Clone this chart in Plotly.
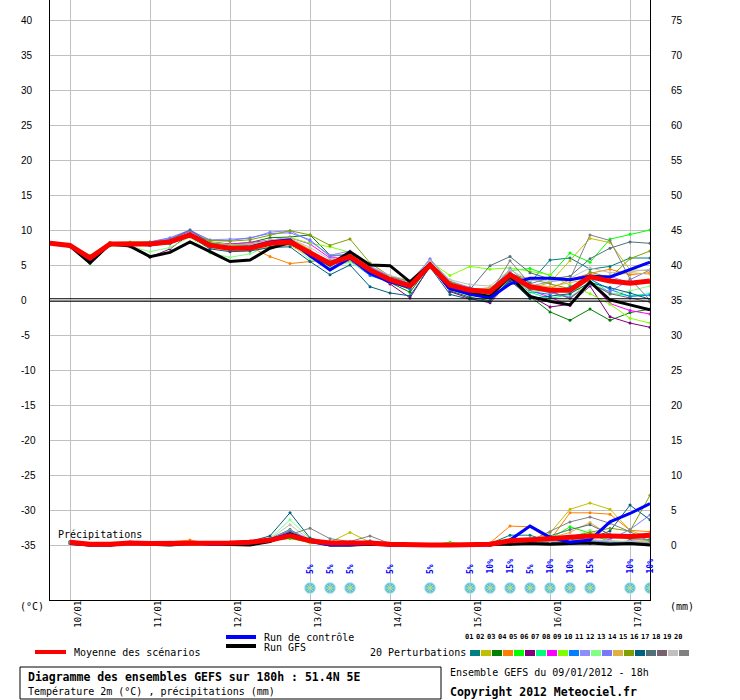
import plotly.graph_objects as go

# --- Time axis: GEFS run 09/01/2012 18h, steps of 6h up to +180h ---
HOURS = list(range(0, 181, 6))
PRECIP_HOURS = HOURS[1:]          # 6h accumulations start at the first step

DATE_TICKS = [6, 30, 54, 78, 102, 126, 150, 174]
DATE_LABELS = ["10/01", "11/01", "12/01", "13/01", "14/01", "15/01", "16/01", "17/01"]

TEMP_TICKS = [40, 35, 30, 25, 20, 15, 10, 5, 0, -5, -10, -15, -20, -25, -30, -35]
PRECIP_TICKS = [75, 70, 65, 60, 55, 50, 45, 40, 35, 30, 25, 20, 15, 10, 5, 0]

SNOW_HOURS = [78, 84, 90, 102, 114, 126, 132, 138, 144, 150, 156, 162, 174, 180]
SNOW_PCT = [5, 5, 5, 5, 5, 5, 10, 15, 5, 10, 10, 15, 10, 10]

MEMBER_COLORS = ["#008080", "#c0c000", "#008000", "#ff8000", "#00ff00",
                 "#800080", "#00ff80", "#ff00ff", "#80ff00", "#0080ff",
                 "#8c8cff", "#80ff80", "#7878ff", "#e0b040", "#80a000",
                 "#006080", "#507078", "#786070", "#c0c0c0", "#808080"]

# --- Temperature 2m (C) ---
TEMP_MEAN = [8.1, 7.8, 6.0, 8.0, 8.0, 8.0, 8.3, 9.3, 7.8, 7.4, 7.4, 8.1, 8.3, 6.7, 5.2, 6.2,
             4.3, 2.9, 2.0, 5.0, 2.1, 1.4, 1.2, 3.6, 1.9, 1.4, 1.4, 3.3, 2.7, 2.4, 2.7]
TEMP_CTRL = [8.1, 7.8, 5.8, 8.0, 8.0, 7.9, 8.3, 9.4, 7.9, 7.3, 7.5, 8.3, 8.6, 6.3, 4.3, 6.0,
             3.8, 2.6, 1.8, 5.1, 1.6, 0.8, 0.3, 2.3, 3.1, 3.1, 2.9, 3.4, 3.3, 4.3, 5.4]
TEMP_GFS = [8.1, 7.7, 5.3, 8.0, 7.7, 6.2, 6.8, 8.3, 6.9, 5.5, 5.7, 7.4, 8.2, 6.6, 5.0, 6.9,
            5.0, 4.9, 2.6, 5.1, 2.0, 1.0, 0.5, 3.4, 0.5, -0.2, -0.7, 2.6, 0.0, -0.7, -1.4]

T01 = [8.1, 7.7, 5.6, 7.9, 8.1, 8.2, 8.4, 9.5, 7.9, 7.6, 7.8, 8.3, 8.6, 6.9, 4.9, 6.0,
       4.0, 2.6, 1.5, 5.2, 1.7, 0.9, 0.4, 3.9, 2.5, 5.7, 6.0, 4.4, 4.8, 6.0, 6.0]
T02 = [8.1, 7.9, 6.3, 8.1, 8.0, 8.1, 8.5, 9.2, 7.8, 7.7, 8.0, 8.4, 8.8, 7.2, 4.3, 5.8,
       4.6, 3.1, 1.9, 4.8, 1.8, 0.6, 0.8, 3.4, 1.6, 2.5, 5.6, 8.8, 8.2, 4.3, 4.2]
T03 = [8.1, 7.8, 5.7, 8.2, 8.0, 7.9, 8.4, 9.4, 8.2, 8.0, 8.2, 8.9, 9.0, 9.3, 6.4, 6.4,
       4.1, 2.5, 1.1, 5.0, 1.3, 0.4, -0.1, 3.0, 0.5, -1.7, -2.9, -1.3, -2.9, -1.8, -1.3]
T04 = [8.1, 7.8, 6.2, 8.0, 8.1, 8.0, 8.2, 9.1, 7.6, 7.5, 7.6, 6.2, 5.2, 5.5, 5.6, 6.3,
       4.5, 3.2, 2.2, 5.1, 2.6, 1.7, 1.5, 3.3, 2.0, 1.6, 2.9, 3.8, 4.4, 3.6, 3.9]
T05 = [8.1, 7.7, 5.2, 7.8, 7.9, 7.9, 8.2, 9.3, 7.5, 7.2, 7.3, 8.0, 8.2, 6.4, 5.5, 6.5,
       4.4, 2.8, 2.0, 5.3, 2.3, 1.5, 1.6, 4.2, 4.5, 3.5, 6.7, 5.4, 8.7, 9.4, 10.0]
T06 = [8.1, 7.8, 5.9, 8.0, 7.6, 6.1, 7.3, 9.4, 7.9, 7.6, 7.8, 8.2, 8.3, 6.5, 5.1, 6.1,
       3.9, 2.3, 0.3, 4.9, 1.2, 0.2, -0.4, 2.7, 0.6, -1.0, -0.6, 2.0, -2.4, -3.3, -3.9]
T07 = [8.1, 7.8, 6.1, 8.1, 8.1, 8.2, 8.6, 9.6, 7.9, 7.3, 7.4, 8.0, 8.1, 6.7, 5.4, 6.4,
       4.2, 2.8, 2.1, 5.2, 2.0, 1.2, 0.7, 3.5, 1.1, 0.2, 0.8, 3.1, 1.0, 0.6, 0.9]
T08 = [8.1, 7.8, 6.0, 8.0, 8.0, 8.1, 8.7, 9.8, 8.3, 8.0, 8.2, 8.6, 8.9, 8.0, 6.0, 6.2,
       4.0, 3.0, 2.4, 5.0, 1.9, 0.9, 0.5, 3.8, 1.4, 0.4, -0.8, 2.6, -0.5, -1.5, -2.0]
T09 = [8.1, 7.9, 6.0, 8.2, 8.2, 8.2, 8.6, 9.5, 8.3, 7.9, 8.0, 8.4, 8.9, 8.1, 7.6, 6.8,
       4.6, 3.0, 2.5, 5.5, 3.5, 4.8, 4.4, 4.6, 4.1, 3.6, 2.1, 0.9, -0.6, -2.6, -3.3]
T10 = [8.1, 7.7, 5.8, 7.9, 8.0, 8.0, 8.2, 9.2, 7.7, 7.2, 7.2, 7.9, 8.3, 6.3, 4.6, 5.6,
       3.5, 2.5, 1.6, 5.1, 1.5, 0.7, 0.4, 3.3, 1.2, 0.8, 1.9, 3.0, 1.5, 0.5, 0.7]
T11 = [8.1, 7.8, 6.0, 8.0, 8.1, 8.3, 8.8, 9.9, 8.6, 8.7, 8.8, 9.7, 9.9, 8.4, 6.4, 7.0,
       4.7, 3.3, 2.6, 5.8, 2.7, 1.8, 1.1, 4.5, 2.0, 2.6, 3.0, 3.6, 3.4, 2.4, 2.5]
T12 = [8.1, 7.7, 5.5, 7.7, 7.7, 6.9, 7.5, 9.0, 6.7, 6.1, 6.6, 7.8, 8.1, 5.8, 4.7, 5.4,
       3.8, 2.7, 1.8, 4.8, 1.6, 1.0, 0.8, 3.1, 1.3, 1.1, 0.3, 2.8, 0.8, 1.3, 2.0]
T13 = [8.1, 7.8, 6.1, 8.1, 8.1, 8.3, 8.9, 10.0, 8.5, 8.5, 8.9, 9.5, 9.6, 8.6, 6.2, 6.6,
       4.8, 3.4, 2.3, 5.9, 2.4, 1.3, 0.9, 4.0, 1.7, 1.0, 0.4, 2.2, 1.2, 2.9, 4.3]
T14 = [8.1, 7.8, 6.2, 8.0, 7.9, 7.9, 8.1, 9.0, 7.5, 7.0, 7.1, 7.6, 7.8, 6.2, 4.4, 5.7,
       4.0, 2.6, 1.9, 4.6, 1.8, 1.4, 1.8, 3.5, 2.2, 1.9, 2.5, 3.0, 3.5, 3.9, 3.7]
T15 = [8.1, 7.9, 6.4, 8.2, 8.3, 8.3, 8.5, 9.4, 8.5, 8.4, 8.6, 9.3, 9.9, 9.3, 7.8, 8.7,
       5.3, 3.4, 2.7, 5.4, 2.6, 1.6, 1.3, 3.7, 3.0, 2.4, 1.6, 4.0, 3.2, 5.9, 7.0]
T16 = [8.1, 7.6, 5.4, 7.8, 7.9, 7.8, 8.1, 9.1, 7.3, 6.9, 7.0, 7.5, 7.6, 5.5, 3.6, 5.0,
       1.9, 1.0, 0.6, 4.7, 0.8, 0.1, -0.2, 2.9, 0.2, 0.5, 0.9, 2.5, 1.8, 1.0, 0.1]
T17 = [8.1, 7.8, 6.0, 8.0, 8.0, 8.2, 8.6, 10.0, 8.1, 7.8, 7.9, 8.5, 8.7, 6.9, 5.3, 6.7,
       4.4, 3.0, 2.1, 5.1, 2.4, 1.5, 4.9, 6.2, 3.9, 3.0, 3.4, 5.9, 7.4, 8.3, 8.1]
T18 = [8.1, 7.8, 5.9, 7.9, 7.9, 7.8, 8.0, 9.2, 7.6, 7.3, 7.3, 7.9, 8.0, 6.6, 5.0, 6.0,
       4.2, 3.1, 2.3, 4.9, 2.2, 1.7, 1.0, 3.2, 1.5, 1.3, 0.2, 2.4, 0.9, 0.3, -0.3]
T19 = [8.1, 7.8, 6.1, 8.0, 8.1, 8.1, 8.4, 9.4, 8.0, 7.8, 7.9, 8.6, 8.8, 7.5, 5.8, 6.4,
       4.9, 3.5, 2.8, 5.6, 2.9, 2.2, 2.0, 4.3, 2.8, 2.7, 3.1, 4.6, 3.9, 4.0, 4.4]
T20 = [8.1, 7.8, 6.0, 8.0, 8.0, 8.0, 8.3, 9.5, 7.9, 7.6, 7.7, 8.2, 8.4, 6.9, 5.6, 6.3,
       4.5, 2.9, 2.2, 5.2, 1.9, 1.1, 0.9, 5.6, 2.3, 3.2, 3.0, 9.3, 8.5, 3.0, 0.0]

# --- Precipitation (mm / 6h) ---
PREC_MEAN = [0.4, 0.1, 0.1, 0.3, 0.2, 0.2, 0.3, 0.2, 0.3, 0.4, 0.7, 1.3, 0.6, 0.3, 0.3,
             0.3, 0.1, 0.0, 0.0, 0.0, 0.0, 0.1, 0.6, 0.7, 0.9, 1.1, 1.3, 1.3, 1.2, 1.4]
PREC_CTRL = [0.3, 0.0, 0.0, 0.4, 0.2, 0.1, 0.4, 0.1, 0.2, 0.3, 0.8, 1.5, 0.5, 0.0, 0.0,
             0.2, 0.0, 0.0, 0.0, 0.0, 0.0, 0.0, 0.7, 2.7, 1.1, 0.4, 0.7, 3.3, 4.5, 5.9]
PREC_GFS = [0.2, 0.0, 0.0, 0.2, 0.1, 0.0, 0.2, 0.1, 0.0, 0.0, 0.5, 1.6, 0.6, 0.0, 0.0,
            0.1, 0.0, 0.0, 0.0, 0.0, 0.0, 0.0, 0.1, 0.2, 0.1, 0.2, 0.3, 0.1, 0.2, 0.0]

P01 = [0.3, 0.1, 0.0, 0.3, 0.2, 0.2, 0.3, 0.2, 0.4, 0.5, 0.8, 1.9, 0.7, 0.3, 0.4,
       0.2, 0.1, 0.0, 0.0, 0.0, 0.0, 0.2, 1.4, 1.4, 0.5, 0.3, 0.4, 0.2, 0.3, 0.1]
P02 = [0.4, 0.1, 0.1, 0.2, 0.2, 0.1, 0.2, 0.3, 0.2, 0.3, 0.6, 1.7, 0.8, 0.4, 1.8,
       0.4, 0.0, 0.0, 0.0, 0.0, 0.0, 0.0, 0.3, 0.5, 1.7, 5.1, 6.0, 5.1, 2.1, 1.0]
P03 = [0.5, 0.2, 0.1, 0.4, 0.3, 0.2, 0.3, 0.2, 0.3, 0.4, 0.9, 2.2, 0.6, 0.2, 0.2,
       0.2, 0.0, 0.0, 0.0, 0.0, 0.0, 0.0, 0.2, 0.3, 0.4, 0.8, 0.6, 0.3, 0.2, 0.4]
P04 = [0.3, 0.1, 0.1, 0.3, 0.2, 0.4, 0.7, 0.2, 0.3, 0.4, 0.7, 1.8, 0.5, 0.2, 0.3,
       0.3, 0.1, 0.0, 0.0, 0.0, 0.0, 0.3, 2.7, 2.6, 0.7, 4.6, 4.6, 4.4, 2.1, 1.9]
P05 = [0.4, 0.1, 0.0, 0.3, 0.2, 0.2, 0.3, 0.1, 0.3, 0.5, 0.6, 0.9, 0.4, 0.1, 0.2,
       0.1, 0.0, 0.0, 0.0, 0.4, 0.0, 0.1, 0.4, 0.6, 0.9, 2.6, 1.7, 0.4, 0.2, 0.6]
P06 = [0.2, 0.0, 0.0, 0.2, 0.1, 0.1, 0.2, 0.1, 0.2, 0.3, 0.7, 1.5, 0.5, 0.2, 0.1,
       0.1, 0.0, 0.0, 0.0, 0.0, 0.0, 0.0, 0.1, 0.3, 0.2, 0.4, 0.3, 0.2, 0.5, 0.3]
P07 = [0.3, 0.1, 0.1, 0.3, 0.2, 0.2, 0.3, 0.2, 0.3, 0.4, 0.8, 1.4, 0.4, 0.1, 0.2,
       0.2, 0.0, 0.0, 0.0, 0.0, 0.0, 0.0, 0.2, 0.4, 0.3, 0.5, 0.6, 0.4, 0.3, 0.2]
P08 = [0.4, 0.1, 0.0, 0.3, 0.3, 0.2, 0.2, 0.2, 0.3, 0.5, 0.9, 2.0, 0.6, 0.3, 0.3,
       0.2, 0.1, 0.0, 0.0, 0.0, 0.0, 0.0, 0.1, 0.2, 0.3, 0.3, 0.2, 0.4, 0.3, 0.5]
P09 = [0.3, 0.1, 0.1, 0.2, 0.2, 0.2, 0.3, 0.2, 0.2, 0.3, 0.6, 1.1, 0.3, 0.1, 0.1,
       0.1, 0.0, 0.0, 0.0, 0.3, 0.0, 0.0, 0.2, 0.3, 0.4, 0.6, 0.5, 0.3, 0.2, 0.3]
P10 = [0.4, 0.1, 0.1, 0.4, 0.3, 0.2, 0.3, 0.2, 0.3, 0.4, 0.8, 1.6, 0.7, 0.4, 0.3,
       0.2, 0.1, 0.0, 0.0, 0.0, 0.0, 0.0, 0.1, 0.2, 0.3, 0.2, 0.4, 0.3, 0.6, 0.4]
P11 = [0.3, 0.1, 0.0, 0.3, 0.2, 0.3, 0.4, 0.2, 0.3, 0.5, 0.9, 2.1, 0.8, 0.5, 0.4,
       0.3, 0.1, 0.0, 0.0, 0.0, 0.0, 0.0, 0.2, 0.4, 0.5, 0.3, 0.6, 0.5, 0.4, 0.6]
P12 = [0.3, 0.1, 0.1, 0.2, 0.2, 0.2, 0.2, 0.2, 0.3, 0.4, 1.0, 3.6, 0.9, 0.3, 0.2,
       0.2, 0.0, 0.0, 0.0, 0.0, 0.0, 0.0, 0.3, 0.5, 0.8, 1.0, 2.1, 0.6, 0.4, 0.5]
P13 = [0.4, 0.2, 0.1, 0.3, 0.2, 0.2, 0.3, 0.3, 0.4, 0.5, 0.8, 1.8, 0.6, 0.3, 0.3,
       0.3, 0.1, 0.0, 0.0, 0.0, 0.0, 0.0, 0.2, 0.3, 0.4, 0.5, 0.3, 0.8, 2.2, 4.3]
P14 = [0.3, 0.1, 0.1, 0.3, 0.2, 0.2, 0.3, 0.2, 0.4, 0.6, 0.7, 1.6, 0.5, 0.2, 0.4,
       0.2, 0.0, 0.0, 0.0, 0.0, 0.0, 0.0, 0.4, 0.6, 1.0, 1.8, 3.2, 1.4, 0.8, 0.6]
P15 = [0.4, 0.1, 0.0, 0.3, 0.2, 0.1, 0.3, 0.2, 0.3, 0.4, 0.7, 1.7, 0.5, 0.2, 0.2,
       0.2, 0.0, 0.0, 0.0, 0.0, 0.0, 0.0, 0.1, 0.3, 0.6, 1.2, 1.8, 2.4, 2.0, 7.1]
P16 = [0.3, 0.1, 0.1, 0.3, 0.2, 0.2, 0.3, 0.2, 0.3, 0.5, 1.3, 4.6, 1.0, 0.3, 0.3,
       0.2, 0.1, 0.0, 0.0, 0.0, 0.0, 0.0, 0.2, 0.4, 0.3, 0.6, 0.9, 2.0, 5.7, 3.6]
P17 = [0.3, 0.1, 0.1, 0.3, 0.2, 0.2, 0.3, 0.2, 0.4, 0.4, 0.8, 1.9, 0.6, 0.3, 0.3,
       0.6, 0.1, 0.0, 0.0, 0.0, 0.0, 0.0, 0.3, 0.7, 1.3, 2.2, 2.9, 1.5, 0.9, 0.8]
P18 = [0.4, 0.1, 0.0, 0.2, 0.2, 0.2, 0.2, 0.2, 0.3, 0.4, 0.6, 1.4, 0.5, 0.2, 0.2,
       0.2, 0.0, 0.0, 0.0, 0.0, 0.0, 0.0, 0.1, 0.2, 0.2, 0.4, 0.3, 0.2, 0.3, 0.2]
P19 = [0.3, 0.1, 0.1, 0.3, 0.3, 0.2, 0.3, 0.2, 0.3, 0.5, 0.9, 2.9, 0.7, 0.3, 0.3,
       0.3, 0.1, 0.0, 0.0, 0.0, 0.0, 0.0, 0.2, 0.3, 0.5, 0.7, 0.8, 0.6, 0.5, 0.4]
P20 = [0.3, 0.1, 0.1, 0.3, 0.2, 0.2, 0.3, 0.2, 0.3, 0.4, 0.8, 1.5, 2.4, 0.9, 0.5,
       1.3, 0.2, 0.0, 0.0, 0.0, 0.0, 0.2, 0.8, 0.6, 1.9, 3.3, 4.0, 3.1, 1.9, 0.5]

TEMP_MEMBERS = [T01, T02, T03, T04, T05, T06, T07, T08, T09, T10,
                T11, T12, T13, T14, T15, T16, T17, T18, T19, T20]
PREC_MEMBERS = [P01, P02, P03, P04, P05, P06, P07, P08, P09, P10,
                P11, P12, P13, P14, P15, P16, P17, P18, P19, P20]

# --- Layout geometry (pixels of the 740x700 page) ---
W, H = 740, 700
L, T, PW, PH = 50, 0, 600, 600
MONO = "DejaVu Sans Mono"


def px(x):
    return (x - L) / PW


def py(y):
    return (T + PH - y) / PH


TEMP_RANGE = [-42.857, 42.857]
PREC_RANGE = [TEMP_RANGE[0] + 35, TEMP_RANGE[1] + 35]
ICON_Y = (300 - 588) / 7.0   # snow icon row, in temperature units

fig = go.Figure()

# ensemble members
for k, col in enumerate(MEMBER_COLORS):
    fig.add_trace(go.Scatter(x=PRECIP_HOURS, y=PREC_MEMBERS[k], yaxis="y2", mode="lines+markers",
                             line=dict(color=col, width=1), marker=dict(size=3, color=col),
                             showlegend=False, hoverinfo="skip"))
    fig.add_trace(go.Scatter(x=HOURS, y=TEMP_MEMBERS[k], mode="lines+markers",
                             line=dict(color=col, width=1), marker=dict(size=3, color=col),
                             showlegend=False, hoverinfo="skip"))

# GFS, control, mean
for prec, temp, col, w in [(PREC_GFS, TEMP_GFS, "#000000", 3),
                           (PREC_CTRL, TEMP_CTRL, "#0000ff", 3),
                           (PREC_MEAN, TEMP_MEAN, "#ff0000", 5)]:
    fig.add_trace(go.Scatter(x=PRECIP_HOURS, y=prec, yaxis="y2", mode="lines",
                             line=dict(color=col, width=w), showlegend=False))
    fig.add_trace(go.Scatter(x=HOURS, y=temp, mode="lines",
                             line=dict(color=col, width=w), showlegend=False))

# snow probability icons
fig.add_trace(go.Scatter(x=SNOW_HOURS, y=[ICON_Y] * len(SNOW_HOURS), mode="markers",
                         marker=dict(symbol="circle", size=11, color="#5cb8ec",
                                     line=dict(color="#b8ecff", width=1)),
                         showlegend=False, hoverinfo="skip"))
fig.add_trace(go.Scatter(x=SNOW_HOURS, y=[ICON_Y] * len(SNOW_HOURS), mode="markers",
                         marker=dict(symbol="asterisk-open", size=8,
                                     line=dict(color="white", width=1)),
                         showlegend=False, hoverinfo="skip"))

annotations = []
for h, p in zip(SNOW_HOURS, SNOW_PCT):
    annotations.append(dict(x=h, y=py(576), xref="x", yref="paper", text=f"<b>{p}%</b>",
                            textangle=-90, showarrow=False,
                            font=dict(family=MONO, size=8, color="#0000ff")))

# y tick labels (left: temperature, right: precipitation)
for v in TEMP_TICKS:
    annotations.append(dict(x=px(19), y=v, xref="paper", yref="y", text=str(v),
                            xanchor="left", showarrow=False,
                            font=dict(family="Liberation Sans", size=10, color="#000")))
for v in PRECIP_TICKS:
    annotations.append(dict(x=px(669), y=v, xref="paper", yref="y2", text=str(v),
                            xanchor="left", showarrow=False,
                            font=dict(family="Liberation Sans", size=10, color="#000")))


def label(x, y, text, size=10, bold=False, anchor="left"):
    if bold:
        text = "<b>" + text + "</b>"
    annotations.append(dict(x=px(x), y=py(y), xref="paper", yref="paper", text=text,
                            xanchor=anchor, yanchor="middle", showarrow=False,
                            font=dict(family=MONO, size=size, color="#000")))


label(18, 606, "(°C)")
label(668, 606, "(mm)")
label(56, 534, "Précipitations")
label(72, 652, "Moyenne des scénarios")
label(262, 637, "Run de contrôle")
label(262, 647, "Run GFS")
label(368, 652, "20 Perturbations")
label(26, 677, "Diagramme des ensembles GEFS sur 180h : 51.4N 5E", size=11.5, bold=True)
label(26, 691, "Température 2m (°C) , précipitations (mm)")
label(448, 672, "Ensemble GEFS du 09/01/2012 - 18h")
label(448, 692, "Copyright 2012 Meteociel.fr", size=11.5, bold=True)

shapes = []
# double line at 0 C
for off in (0.18, -0.18):
    shapes.append(dict(type="line", xref="paper", yref="y", x0=0, x1=1, y0=off, y1=off,
                       line=dict(color="#000", width=1)))
# legend lines
for (x0, x1, y, col) in [(35, 66, 652, "#ff0000"), (226, 256, 637, "#0000ff"),
                         (226, 256, 646, "#000000")]:
    shapes.append(dict(type="line", xref="paper", yref="paper", x0=px(x0), x1=px(x1),
                       y0=py(y), y1=py(y), line=dict(color=col, width=4)))
# perturbation swatches
for k, col in enumerate(MEMBER_COLORS):
    x0 = 470 + 11 * k
    shapes.append(dict(type="rect", xref="paper", yref="paper", x0=px(x0), x1=px(x0 + 10),
                       y0=py(656), y1=py(650), fillcolor=col, line=dict(width=0)))
    annotations.append(dict(x=px(x0 + 5), y=py(643), xref="paper", yref="paper",
                            text=f"<b>{k + 1:02d}</b>", showarrow=False,
                            font=dict(family=MONO, size=7, color="#000")))
# title box
shapes.append(dict(type="rect", xref="paper", yref="paper", x0=px(20), x1=px(441),
                   y0=py(699), y1=py(667), line=dict(color="#000", width=1)))

fig.update_layout(
    width=W, height=H,
    margin=dict(l=L, r=W - L - PW, t=T, b=H - T - PH),
    paper_bgcolor="white", plot_bgcolor="white",
    xaxis=dict(range=[0, 180], tickvals=DATE_TICKS, ticktext=DATE_LABELS, tickangle=-90,
               ticklabelshift=8, ticklabelstandoff=-4, ticks="",
               tickfont=dict(family=MONO, size=9, color="#000"),
               showgrid=True, gridcolor="#c0c0c0", gridwidth=1, zeroline=False,
               showline=True, linecolor="#000", linewidth=1),
    yaxis=dict(range=TEMP_RANGE, tickvals=TEMP_TICKS, showticklabels=False, ticks="",
               showgrid=True, gridcolor="#c0c0c0", gridwidth=1, zeroline=False,
               showline=True, linecolor="#000", linewidth=1, mirror=True),
    yaxis2=dict(range=PREC_RANGE, overlaying="y", side="right", showgrid=False,
                showticklabels=False, ticks="", zeroline=False),
    annotations=annotations,
    shapes=shapes,
)

# the page is photographed at 740x700: drop the default body margin
fig.write_html("out.html", config={"displayModeBar": False},
               post_script="document.body.style.margin='0px';")
